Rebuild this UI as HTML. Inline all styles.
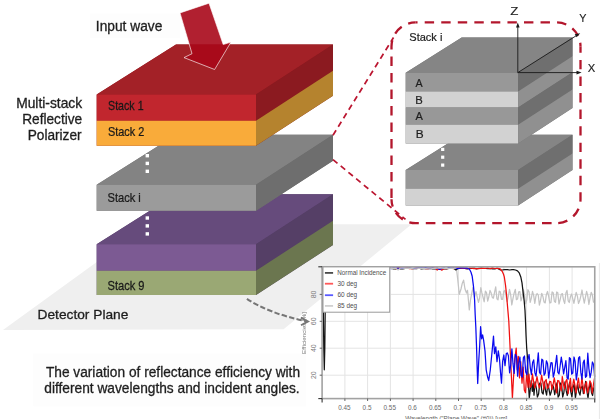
<!DOCTYPE html>
<html><head><meta charset="utf-8"><title>Multi-stack Reflective Polarizer</title>
<style>html,body{margin:0;padding:0;background:#fff;width:600px;height:419px;overflow:hidden}</style>
</head><body>
<svg width="600" height="419" viewBox="0 0 600 419" style="display:block">
<defs><filter id="soft" x="-5%" y="-20%" width="110%" height="140%"><feGaussianBlur stdDeviation="0.32"/></filter></defs>
<rect width="600" height="419" fill="#ffffff"/>
<polygon points="3.0,330.0 148.8,224.3 411.6,224.3 283.6,329.2" fill="#efefef" />
<rect x="33.2" y="353.4" width="273" height="53" fill="#fdfdfd"/>
<rect x="90" y="13.5" width="90" height="24.5" fill="#fdfdfd"/>
<polygon points="96.7,244.2 176.0,194.2 333.0,194.2 333.0,245.0 256.0,295.0 96.7,295.0" fill="#553f66" />
<polygon points="96.70,244.20 256.00,244.20 333.00,194.20 176.00,194.20" fill="#664b7c"/>
<polygon points="96.70,244.20 256.00,244.20 256.00,270.70 96.70,270.70" fill="#7c5a93"/>
<polygon points="256.00,244.20 333.00,194.20 333.00,220.70 256.00,270.70" fill="#553f66"/>
<polygon points="96.70,270.70 256.00,270.70 256.00,295.00 96.70,295.00" fill="#9aa874"/>
<polygon points="256.00,270.70 333.00,220.70 333.00,245.00 256.00,295.00" fill="#6b764f"/>
<polygon points="96.7,184.7 176.0,134.7 333.0,134.7 333.0,160.8 256.0,210.8 96.7,210.8" fill="#6e6e6e" />
<polygon points="96.70,184.70 256.00,184.70 333.00,134.70 176.00,134.70" fill="#838383"/>
<polygon points="96.70,184.70 256.00,184.70 256.00,210.80 96.70,210.80" fill="#9b9b9b"/>
<polygon points="256.00,184.70 333.00,134.70 333.00,160.80 256.00,210.80" fill="#6e6e6e"/>
<polygon points="96.7,94.6 176.0,44.6 333.0,44.6 333.0,95.8 256.0,145.8 96.7,145.8" fill="#8b1a20" />
<polygon points="96.70,94.60 256.00,94.60 333.00,44.60 176.00,44.60" fill="#a32127"/>
<polygon points="96.70,94.60 256.00,94.60 256.00,120.70 96.70,120.70" fill="#c1262e"/>
<polygon points="256.00,94.60 333.00,44.60 333.00,70.70 256.00,120.70" fill="#8b1a20"/>
<polygon points="96.70,120.70 256.00,120.70 256.00,145.80 96.70,145.80" fill="#f9ab3a"/>
<polygon points="256.00,120.70 333.00,70.70 333.00,95.80 256.00,145.80" fill="#b5832e"/>
<rect x="145.6" y="154.0" width="3.4" height="3.4" fill="#ffffff"/>
<rect x="145.6" y="161.7" width="3.4" height="3.4" fill="#ffffff"/>
<rect x="145.6" y="169.6" width="3.4" height="3.4" fill="#ffffff"/>
<rect x="145.6" y="216.3" width="3.4" height="3.4" fill="#ffffff"/>
<rect x="145.6" y="224.2" width="3.4" height="3.4" fill="#ffffff"/>
<rect x="145.6" y="232.2" width="3.4" height="3.4" fill="#ffffff"/>
<polygon points="180.0,12.9 209.0,3.2 223.2,44.6 231.0,42.0 214.6,69.5 184.0,57.6 192.0,53.7" fill="#a8081a" fill-opacity="0.9" stroke="#ffffff" stroke-opacity="0.85" stroke-width="0.75" stroke-linejoin="miter"/>
<g filter="url(#soft)">
<text transform="translate(95.83,30.60) scale(0.9961,1)" font-family="Liberation Sans, Arial, sans-serif" font-size="13.80" fill="#1e1e1e"  stroke="#1e1e1e" stroke-width="0.30">Input wave</text>
<text transform="translate(16.16,107.50) scale(1.0026,1)" font-family="Liberation Sans, Arial, sans-serif" font-size="13.80" fill="#1e1e1e"  stroke="#1e1e1e" stroke-width="0.30">Multi-stack</text>
<text transform="translate(22.18,123.60) scale(0.9907,1)" font-family="Liberation Sans, Arial, sans-serif" font-size="13.80" fill="#1e1e1e"  stroke="#1e1e1e" stroke-width="0.30">Reflective</text>
<text transform="translate(27.68,140.10) scale(0.9908,1)" font-family="Liberation Sans, Arial, sans-serif" font-size="13.80" fill="#1e1e1e"  stroke="#1e1e1e" stroke-width="0.30">Polarizer</text>
<text transform="translate(108.02,110.20) scale(0.8897,1)" font-family="Liberation Sans, Arial, sans-serif" font-size="12.00" fill="#1a1a1a"  stroke="#1a1a1a" stroke-width="0.25">Stack 1</text>
<text transform="translate(108.01,135.90) scale(0.9081,1)" font-family="Liberation Sans, Arial, sans-serif" font-size="12.00" fill="#1a1a1a"  stroke="#1a1a1a" stroke-width="0.25">Stack 2</text>
<text transform="translate(107.50,202.10) scale(0.9262,1)" font-family="Liberation Sans, Arial, sans-serif" font-size="12.00" fill="#1a1a1a"  stroke="#1a1a1a" stroke-width="0.25">Stack i</text>
<text transform="translate(107.50,289.70) scale(0.9253,1)" font-family="Liberation Sans, Arial, sans-serif" font-size="12.00" fill="#1a1a1a"  stroke="#1a1a1a" stroke-width="0.25">Stack 9</text>
<text transform="translate(37.57,318.80) scale(1.0097,1)" font-family="Liberation Sans, Arial, sans-serif" font-size="13.60" fill="#1e1e1e"  stroke="#1e1e1e" stroke-width="0.30">Detector Plane</text>
<text transform="translate(45.89,377.00) scale(0.9930,1)" font-family="Liberation Sans, Arial, sans-serif" font-size="13.80" fill="#1e1e1e"  stroke="#1e1e1e" stroke-width="0.30">The variation of reflectance efficiency with</text>
<text transform="translate(44.32,392.90) scale(0.9954,1)" font-family="Liberation Sans, Arial, sans-serif" font-size="13.80" fill="#1e1e1e"  stroke="#1e1e1e" stroke-width="0.30">different wavelengths and incident angles.</text>
</g>
<g stroke="#bb1530" stroke-width="1.7" stroke-dasharray="5.8 4.2" fill="none">
<line x1="333" y1="135.2" x2="393.5" y2="37.5"/>
<line x1="333" y1="159.6" x2="405.5" y2="219.4"/>
</g>
<polygon points="405.7,170.1 461.7,134.8 572.5,134.8 572.5,170.1 518.1,205.4 405.7,205.4" fill="#6f6f6f" />
<polygon points="405.70,170.10 518.10,170.10 572.50,134.80 461.70,134.80" fill="#858585"/>
<polygon points="405.70,170.10 518.10,170.10 518.10,188.70 405.70,188.70" fill="#989898"/>
<polygon points="518.10,170.10 572.50,134.80 572.50,153.40 518.10,188.70" fill="#6f6f6f"/>
<polygon points="405.70,188.70 518.10,188.70 518.10,205.40 405.70,205.40" fill="#d2d2d2"/>
<polygon points="518.10,188.70 572.50,153.40 572.50,170.10 518.10,205.40" fill="#909090"/>
<polygon points="405.7,72.8 461.7,37.5 572.5,37.5 572.5,108.1 518.1,143.4 405.7,143.4" fill="#6f6f6f" />
<polygon points="405.70,72.80 518.10,72.80 572.50,37.50 461.70,37.50" fill="#858585"/>
<polygon points="405.70,72.80 518.10,72.80 518.10,91.50 405.70,91.50" fill="#989898"/>
<polygon points="518.10,72.80 572.50,37.50 572.50,56.20 518.10,91.50" fill="#6f6f6f"/>
<polygon points="405.70,91.50 518.10,91.50 518.10,107.60 405.70,107.60" fill="#d2d2d2"/>
<polygon points="518.10,91.50 572.50,56.20 572.50,72.30 518.10,107.60" fill="#909090"/>
<polygon points="405.70,107.60 518.10,107.60 518.10,124.80 405.70,124.80" fill="#989898"/>
<polygon points="518.10,107.60 572.50,72.30 572.50,89.50 518.10,124.80" fill="#6f6f6f"/>
<polygon points="405.70,124.80 518.10,124.80 518.10,143.40 405.70,143.40" fill="#d2d2d2"/>
<polygon points="518.10,124.80 572.50,89.50 572.50,108.10 518.10,143.40" fill="#909090"/>
<rect x="441.1" y="147.8" width="3.2" height="3.2" fill="#ffffff"/>
<rect x="441.1" y="155.6" width="3.2" height="3.2" fill="#ffffff"/>
<rect x="441.1" y="163.5" width="3.2" height="3.2" fill="#ffffff"/>
<g fill="none" stroke="#b3162c" stroke-width="2.3">
<path d="M415.5,22.4 H556.5 A24,24 0 0 1 580.5,46.4" stroke-dasharray="9.4 7.15" stroke-dashoffset="7.35"/>
<path d="M580.5,46.4 V199.2 A24,24 0 0 1 556.5,223.2" stroke-dasharray="9.4 7.15" stroke-dashoffset="3.0"/>
<path d="M556.5,223.2 H415.5 A24,24 0 0 1 391.5,199.2" stroke-dasharray="9.6 7.0" stroke-dashoffset="11.7"/>
<path d="M391.5,199.2 V46.4 A24,24 0 0 1 415.5,22.4" stroke-dasharray="9.3 7.2" stroke-dashoffset="15.2"/>
</g>
<g stroke="#1a1a1a" stroke-width="0.9" fill="none">
<line x1="517.8" y1="72.6" x2="517.8" y2="25"/>
<line x1="517.8" y1="72.6" x2="579" y2="72.6"/>
<line x1="517.8" y1="72.6" x2="578" y2="34.6"/>
</g>
<g fill="#1a1a1a">
<polygon points="517.8,22.4 516.0,27.5 519.6,27.5" fill="#1a1a1a" />
<polygon points="581.6,72.6 576.5,70.8 576.5,74.4" fill="#1a1a1a" />
<polygon points="580.2,33.2 574.7,34.2 576.6,37.2" fill="#1a1a1a" />
</g>
<g filter="url(#soft)">
<text transform="translate(409.30,40.80) scale(1.0227,1)" font-family="Liberation Sans, Arial, sans-serif" font-size="10.80" fill="#222222"  stroke="#222222" stroke-width="0.20">Stack i</text>
<text transform="translate(415.48,86.70) scale(0.9476,1)" font-family="Liberation Sans, Arial, sans-serif" font-size="11.30" fill="#1e1e1e"  stroke="#1e1e1e" stroke-width="0.20">A</text>
<text transform="translate(415.18,103.60) scale(0.9976,1)" font-family="Liberation Sans, Arial, sans-serif" font-size="11.30" fill="#1e1e1e"  stroke="#1e1e1e" stroke-width="0.20">B</text>
<text transform="translate(415.48,119.80) scale(0.9743,1)" font-family="Liberation Sans, Arial, sans-serif" font-size="11.30" fill="#1e1e1e"  stroke="#1e1e1e" stroke-width="0.20">A</text>
<text transform="translate(415.73,137.90) scale(1.0475,1)" font-family="Liberation Sans, Arial, sans-serif" font-size="11.30" fill="#1e1e1e"  stroke="#1e1e1e" stroke-width="0.20">B</text>
<text transform="translate(510.28,15.30) scale(1.1897,1)" font-family="Liberation Sans, Arial, sans-serif" font-size="11.20" fill="#222222"  stroke="#222222" stroke-width="0.15">Z</text>
<text transform="translate(579.16,21.90) scale(0.9601,1)" font-family="Liberation Sans, Arial, sans-serif" font-size="11.20" fill="#222222"  stroke="#222222" stroke-width="0.15">Y</text>
<text transform="translate(587.75,72.10) scale(1.0023,1)" font-family="Liberation Sans, Arial, sans-serif" font-size="11.20" fill="#222222"  stroke="#222222" stroke-width="0.15">X</text>
</g>
<rect x="322.10" y="266.80" width="272.65" height="131.80" fill="#ffffff"/>
<g stroke="#e4e4e4" stroke-width="1">
<line x1="344.9" y1="266.8" x2="344.9" y2="398.6"/>
<line x1="367.6" y1="266.8" x2="367.6" y2="398.6"/>
<line x1="390.4" y1="266.8" x2="390.4" y2="398.6"/>
<line x1="413.1" y1="266.8" x2="413.1" y2="398.6"/>
<line x1="435.8" y1="266.8" x2="435.8" y2="398.6"/>
<line x1="458.5" y1="266.8" x2="458.5" y2="398.6"/>
<line x1="481.2" y1="266.8" x2="481.2" y2="398.6"/>
<line x1="503.9" y1="266.8" x2="503.9" y2="398.6"/>
<line x1="526.6" y1="266.8" x2="526.6" y2="398.6"/>
<line x1="549.4" y1="266.8" x2="549.4" y2="398.6"/>
<line x1="572.1" y1="266.8" x2="572.1" y2="398.6"/>
<line x1="322.1" y1="375.2" x2="594.8" y2="375.2"/>
<line x1="322.1" y1="348.2" x2="594.8" y2="348.2"/>
<line x1="322.1" y1="321.3" x2="594.8" y2="321.3"/>
<line x1="322.1" y1="294.4" x2="594.8" y2="294.4"/>
</g>
<g fill="none" stroke-width="1.25" stroke-linejoin="round">
<path d="M456.4,268.1 L457.6,278.2 L459.3,294.4 L461.0,289.0 L462.2,283.6 L463.6,280.2 L465.0,289.0 L466.5,293.0 L467.5,290.3 L469.3,309.9 L470.5,299.8 L471.7,293.7 L472.9,287.6 L474.5,297.1 L476.0,291.7 L477.5,298.4 L478.5,302.3 L479.6,297.9 L480.8,287.7 L481.9,292.9 L483.1,297.5 L484.2,301.8 L485.4,291.1 L486.5,292.7 L487.7,301.2 L488.8,297.0 L490.0,290.4 L491.1,292.8 L492.3,297.4 L493.4,298.2 L494.6,292.2 L495.7,286.9 L496.9,298.8 L498.0,299.9 L499.2,291.2 L500.3,291.7 L501.5,299.3 L502.6,299.4 L503.8,291.3 L504.9,290.4 L506.1,296.0 L507.2,301.7 L508.4,295.8 L509.5,289.4 L510.7,295.0 L511.8,305.0 L513.0,298.4 L514.1,293.2 L515.3,289.4 L516.4,299.6 L517.6,299.0 L518.7,291.8 L519.9,291.6 L521.0,300.9 L522.2,296.9 L523.3,289.5 L524.5,294.2 L525.6,303.8 L526.8,299.7 L527.9,289.7 L529.1,291.9 L530.2,302.4 L531.4,297.8 L532.5,291.4 L533.7,295.7 L534.8,303.3 L536.0,295.7 L537.1,293.5 L538.3,295.2 L539.4,305.2 L540.6,300.0 L541.7,293.3 L542.9,296.4 L544.0,301.9 L545.2,302.9 L546.3,294.9 L547.5,291.5 L548.6,296.0 L549.8,303.0 L550.9,302.7 L552.1,291.9 L553.2,292.7 L554.4,301.5 L555.5,302.3 L556.7,292.0 L557.8,292.8 L559.0,304.0 L560.1,299.8 L561.3,294.2 L562.4,293.6 L563.6,300.4 L564.7,303.5 L565.9,293.1 L567.0,290.4 L568.2,300.8 L569.3,302.5 L570.5,296.4 L571.6,294.0 L572.8,298.9 L573.9,303.4 L575.1,297.3 L576.2,292.4 L577.4,296.2 L578.5,303.5 L579.7,300.6 L580.8,296.1 L582.0,290.0 L583.1,297.0 L584.3,303.2 L585.4,297.4 L586.6,291.4 L587.7,295.4 L588.9,304.5 L590.0,298.1 L591.2,292.3 L592.3,294.8 L593.5,302.1 L594.6,302.1" stroke="#c4c4c4"/>
<path d="M322.2,268.1 L322.8,270.1 L323.3,307.8 L323.8,348.2 L324.3,369.8 L324.8,348.2 L325.3,301.1 L325.8,271.5 L326.5,268.3 L327.0,268.6 L329.3,268.8 L331.6,268.5 L333.9,268.5 L336.2,268.3 L338.5,268.3 L340.8,268.3 L343.1,268.8 L345.4,268.3 L347.7,268.4 L350.0,268.9 L352.3,268.9 L354.6,268.3 L356.9,268.3 L359.2,268.8 L361.5,268.8 L363.8,268.4 L366.1,268.9 L368.4,268.4 L370.7,268.8 L373.0,268.2 L375.3,268.8 L377.6,268.6 L379.9,268.5 L382.2,268.9 L384.5,268.6 L386.8,268.6 L389.1,268.5 L391.4,268.4 L393.7,268.8 L396.0,268.9 L398.3,268.2 L400.6,268.8 L402.9,268.8 L405.2,268.4 L407.5,268.4 L409.8,268.2 L412.1,268.7 L414.4,268.3 L416.7,268.6 L419.0,268.1 L421.3,268.8 L423.6,268.7 L425.9,268.7 L428.2,268.6 L430.5,268.3 L432.8,268.8 L435.1,268.9 L437.4,268.4 L439.7,268.7 L442.0,268.8 L444.3,268.7 L446.6,268.8 L448.9,268.4 L451.2,268.5 L453.5,268.1 L455.8,269.9 L458.1,268.5 L460.4,268.4 L462.7,268.4 L465.0,268.3 L467.3,268.9 L469.6,268.5 L471.9,268.4 L474.2,268.2 L476.5,268.8 L478.8,268.4 L481.1,268.2 L483.4,268.5 L485.7,268.3 L488.0,268.7 L490.3,268.5 L492.6,268.8 L494.9,268.9 L497.2,268.2 L500.5,270.0 L502.8,269.9 L505.1,269.5 L507.4,269.6 L509.7,270.0 L512.0,269.7 L513.5,269.6 L515.5,270.0 L517.5,270.8 L519.2,272.8 L520.8,276.9 L522.0,282.9 L523.2,293.0 L524.2,301.1 L525.0,310.5 L525.5,321.3 L526.0,334.8 L526.7,348.2 L527.3,355.0 L528.0,372.5 L528.7,388.6 L529.3,398.1 L530.2,390.0 L531.2,380.6 L532.3,391.3 L533.3,383.2 L534.0,395.2 L535.1,381.8 L536.3,388.0 L537.4,397.1 L538.6,394.1 L539.7,383.2 L540.9,383.1 L542.0,392.5 L543.2,394.0 L544.3,381.8 L545.5,390.5 L546.6,395.1 L547.8,383.8 L548.9,389.0 L550.1,395.2 L551.2,392.0 L552.4,385.1 L553.5,386.8 L554.7,394.6 L555.8,388.7 L557.0,382.8 L558.1,397.1 L559.3,395.2 L560.4,383.0 L561.6,384.9 L562.7,397.1 L563.9,392.3 L565.0,382.0 L566.2,390.7 L567.3,395.5 L568.5,387.9 L569.6,382.4 L570.8,391.8 L571.9,396.8 L573.1,387.0 L574.2,384.2 L575.4,398.0 L576.5,390.6 L577.7,384.0 L578.8,392.1 L580.0,395.1 L581.1,387.9 L582.3,386.0 L583.4,393.6 L584.6,388.2 L585.7,381.3 L586.9,390.7 L588.0,398.5 L589.2,388.3 L590.3,382.7 L591.5,392.8 L592.6,395.5 L593.8,387.3" stroke="#141414"/>
<path d="M322.2,268.7 L324.5,268.4 L326.8,268.6 L329.1,268.5 L331.4,268.6 L333.7,268.1 L336.0,268.2 L338.3,268.3 L340.6,270.3 L342.9,267.8 L345.2,268.5 L347.5,268.4 L349.8,268.5 L352.1,268.2 L354.4,267.8 L356.7,268.4 L359.0,267.9 L361.3,268.7 L363.6,267.9 L365.9,268.5 L368.2,268.0 L370.5,268.1 L372.8,268.7 L375.1,268.4 L377.4,268.1 L379.7,267.8 L382.0,267.8 L384.3,268.4 L386.6,268.1 L388.9,268.1 L391.2,268.5 L393.5,268.2 L395.8,268.6 L398.1,267.9 L400.4,267.8 L402.7,268.3 L405.0,268.3 L407.3,268.2 L409.6,268.6 L411.9,268.6 L414.2,268.4 L416.5,267.9 L418.8,268.3 L421.1,268.5 L423.4,268.2 L425.7,268.7 L428.0,268.6 L430.3,268.1 L432.6,268.0 L434.9,268.0 L437.2,270.0 L439.5,268.4 L441.8,270.2 L444.1,268.6 L446.4,268.7 L448.7,268.5 L451.0,268.0 L453.3,268.6 L455.6,268.1 L457.9,267.9 L460.2,268.2 L462.5,268.3 L464.8,268.3 L467.1,268.6 L469.4,268.0 L471.7,268.1 L474.0,268.6 L476.3,268.6 L478.6,268.6 L480.9,268.4 L483.2,268.1 L485.5,268.5 L487.8,268.0 L490.1,268.7 L492.4,267.9 L494.7,268.5 L497.0,268.4 L498.5,268.3 L500.5,269.1 L502.3,271.5 L503.5,274.2 L504.3,276.9 L505.5,285.0 L506.5,294.4 L507.2,302.5 L508.0,311.9 L508.8,321.3 L509.6,337.5 L510.5,356.3 L511.4,376.5 L512.4,398.1 L513.5,377.9 L514.8,359.0 L516.2,348.2 L517.2,369.8 L518.3,356.3 L519.5,377.9 L520.7,361.7 L522.0,383.2 L523.2,367.1 L524.3,390.0 L525.5,392.7 L526.7,372.5 L528.0,387.3 L529.0,374.2 L530.1,387.3 L531.3,386.0 L532.4,373.8 L533.6,381.7 L534.7,387.9 L535.9,382.6 L537.0,376.5 L538.2,383.4 L539.3,387.8 L540.5,384.1 L541.6,375.1 L542.8,381.7 L543.9,389.5 L545.1,381.1 L546.2,379.5 L547.4,388.3 L548.5,387.2 L549.7,381.4 L550.8,381.5 L552.0,389.6 L553.1,384.3 L554.3,377.8 L555.4,384.9 L556.6,392.8 L557.7,380.5 L558.9,380.9 L560.0,385.9 L561.2,390.9 L562.3,376.5 L563.5,384.6 L564.6,389.2 L565.8,381.3 L566.9,379.4 L568.1,393.7 L569.2,385.8 L570.4,378.4 L571.5,391.8 L572.7,385.9 L573.8,379.2 L575.0,385.5 L576.1,393.0 L577.3,384.1 L578.4,378.2 L579.6,387.6 L580.7,388.9 L581.9,377.5 L583.0,385.6 L584.2,393.5 L585.3,384.6 L586.5,381.9 L587.6,393.0 L588.8,387.5 L589.9,380.9 L591.1,383.3 L592.2,393.2 L593.4,384.8 L594.5,378.4" stroke="#f01010"/>
<path d="M322.2,268.4 L324.5,268.0 L326.8,268.4 L329.1,267.8 L331.4,268.1 L333.7,268.6 L336.0,268.0 L338.3,267.8 L340.6,270.0 L342.9,267.7 L345.2,267.8 L347.5,268.6 L349.8,268.1 L352.1,267.7 L354.4,268.4 L356.7,268.5 L359.0,268.2 L361.3,268.3 L363.6,270.0 L365.9,267.8 L368.2,267.9 L370.5,267.7 L372.8,267.9 L375.1,268.0 L377.4,268.5 L379.7,267.8 L382.0,267.7 L384.3,268.2 L386.6,268.2 L388.9,267.7 L391.2,268.6 L393.5,267.9 L395.8,268.1 L398.1,268.1 L400.4,268.4 L402.7,268.1 L405.0,268.4 L407.3,268.3 L409.6,268.3 L411.9,268.3 L414.2,268.5 L416.5,267.9 L418.8,268.0 L421.1,267.7 L423.4,268.2 L425.7,267.7 L428.0,267.8 L430.3,268.2 L432.6,267.8 L434.9,268.5 L437.2,267.9 L439.5,269.4 L441.8,268.4 L444.1,268.2 L446.4,268.5 L448.7,267.7 L451.0,267.9 L453.3,268.4 L455.6,268.1 L457.9,268.6 L460.2,267.8 L462.5,267.8 L464.8,268.2 L467.1,267.8 L467.5,268.3 L469.5,269.3 L471.0,272.2 L472.2,276.3 L473.4,285.6 L474.2,294.4 L474.6,300.0 L475.2,315.0 L475.8,326.7 L476.5,345.5 L477.1,365.7 L477.7,383.5 L478.7,361.7 L479.7,345.5 L480.6,326.7 L481.6,338.8 L482.6,334.8 L483.6,340.2 L485.0,350.9 L486.2,369.8 L487.5,376.5 L488.7,380.6 L490.3,369.8 L492.0,352.3 L493.5,336.1 L494.5,353.6 L495.8,346.9 L497.0,361.7 L498.3,350.9 L499.5,359.0 L500.5,372.5 L501.5,383.2 L502.6,361.7 L503.8,355.0 L505.0,365.7 L506.3,353.6 L507.3,352.9 L508.4,355.8 L509.6,372.8 L510.7,365.1 L511.9,348.8 L513.0,363.7 L514.2,373.3 L515.3,354.3 L516.5,356.5 L517.6,376.2 L518.8,362.9 L519.9,357.0 L521.1,375.3 L522.2,377.2 L523.4,357.5 L524.5,356.0 L525.7,372.1 L526.8,374.6 L528.0,359.2 L529.1,354.5 L530.3,367.8 L531.4,374.5 L532.6,362.5 L533.7,359.9 L534.9,372.9 L536.0,376.1 L537.2,364.8 L538.3,352.8 L539.5,372.3 L540.6,374.1 L541.8,359.2 L542.9,360.2 L544.1,375.2 L545.2,373.2 L546.4,360.8 L547.5,363.4 L548.7,378.0 L549.8,370.1 L551.0,362.7 L552.1,362.9 L553.3,377.2 L554.4,372.5 L555.6,363.9 L556.7,355.3 L557.9,372.5 L559.0,374.0 L560.2,365.5 L561.3,357.1 L562.5,364.8 L563.6,373.8 L564.8,367.2 L565.9,360.7 L567.1,377.8 L568.2,379.1 L569.4,357.6 L570.5,358.7 L571.7,374.1 L572.8,373.0 L574.0,357.0 L575.1,361.4 L576.3,379.9 L577.4,372.4 L578.6,357.9 L579.7,356.7 L580.9,372.9 L582.0,379.1 L583.2,362.7 L584.3,360.1 L585.5,377.3 L586.6,376.1 L587.8,353.2 L588.9,368.6 L590.1,377.7 L591.2,372.4 L592.4,362.0 L593.5,364.2 L594.7,376.8" stroke="#0a0af0"/>
<path d="M322.2,268.2 L324.5,268.1 L326.8,268.2 L329.1,268.3 L331.4,268.2 L333.7,268.3 L336.0,268.3 L338.3,269.8 L340.6,268.1 L342.9,268.1 L345.2,269.9 L347.5,269.8 L349.8,268.3 L352.1,268.3 L354.4,268.2 L356.7,268.2 L359.0,268.2 L361.3,268.2 L363.6,268.1 L365.9,268.1 L368.2,268.2 L370.5,268.2 L372.8,268.1 L375.1,268.1 L377.4,268.1 L379.7,268.3 L382.0,268.1 L384.3,268.1 L386.6,268.3 L388.9,268.1 L391.2,268.3 L393.5,268.1 L395.8,268.3 L398.1,269.9 L400.4,268.1 L402.7,268.2 L405.0,268.3 L407.3,268.3 L409.6,268.3 L411.9,268.3 L414.2,268.1 L416.5,268.2 L418.8,268.3 L421.1,268.1 L423.4,268.3 L425.7,268.3 L428.0,268.1 L430.3,268.2 L432.6,268.3 L434.9,268.3 L437.2,268.2 L439.5,268.1 L441.8,268.2 L444.1,268.3 L446.4,268.1 L448.7,268.3 L451.0,268.1 L453.3,268.3 L455.6,268.1 L456.4,268.1" stroke="#c4c4c4"/>
</g>
<rect x="322.10" y="266.80" width="272.65" height="131.80" fill="none" stroke="#a2a2a2" stroke-width="1.6"/>
<g stroke="#333333" stroke-width="1.1">
<line x1="318.3" y1="266.80" x2="322.10" y2="266.80"/>
<line x1="318.3" y1="398.60" x2="322.10" y2="398.60"/>
<line x1="322.10" y1="398.60" x2="322.10" y2="402.4"/>
<line x1="594.75" y1="398.60" x2="594.75" y2="402.4"/>
</g>
<g stroke="#555555" stroke-width="0.9">
<line x1="344.9" y1="398.6" x2="344.9" y2="401.0"/>
<line x1="367.6" y1="398.6" x2="367.6" y2="401.0"/>
<line x1="390.4" y1="398.6" x2="390.4" y2="401.0"/>
<line x1="413.1" y1="398.6" x2="413.1" y2="401.0"/>
<line x1="435.8" y1="398.6" x2="435.8" y2="401.0"/>
<line x1="458.5" y1="398.6" x2="458.5" y2="401.0"/>
<line x1="481.2" y1="398.6" x2="481.2" y2="401.0"/>
<line x1="503.9" y1="398.6" x2="503.9" y2="401.0"/>
<line x1="526.6" y1="398.6" x2="526.6" y2="401.0"/>
<line x1="549.4" y1="398.6" x2="549.4" y2="401.0"/>
<line x1="572.1" y1="398.6" x2="572.1" y2="401.0"/>
<line x1="319.7" y1="375.2" x2="322.1" y2="375.2"/>
<line x1="319.7" y1="348.2" x2="322.1" y2="348.2"/>
<line x1="319.7" y1="321.3" x2="322.1" y2="321.3"/>
<line x1="319.7" y1="294.4" x2="322.1" y2="294.4"/>
</g>
<rect x="323" y="266.9" width="66.7" height="45.3" fill="#ffffff" stroke="#9a9a9a" stroke-width="1"/>
<line x1="324.9" y1="272.9" x2="333.1" y2="272.9" stroke="#4a4a4a" stroke-width="1.8"/>
<line x1="324.9" y1="283.7" x2="333.1" y2="283.7" stroke="#ff5858" stroke-width="1.8"/>
<line x1="324.9" y1="295.2" x2="333.1" y2="295.2" stroke="#5a5aff" stroke-width="1.8"/>
<line x1="324.9" y1="305.9" x2="333.1" y2="305.9" stroke="#d0d0d0" stroke-width="1.8"/>
<g font-family="'Liberation Sans', Arial, sans-serif">
<text transform="translate(337.28,274.90) scale(0.9398,1)" font-family="Liberation Sans, Arial, sans-serif" font-size="6.70" fill="#4e4e4e" >Normal Incidence</text>
<text transform="translate(337.56,286.00) scale(0.9593,1)" font-family="Liberation Sans, Arial, sans-serif" font-size="6.70" fill="#4e4e4e" >30 deg</text>
<text transform="translate(337.47,297.30) scale(0.9635,1)" font-family="Liberation Sans, Arial, sans-serif" font-size="6.70" fill="#4e4e4e" >60 deg</text>
<text transform="translate(337.52,308.20) scale(0.9611,1)" font-family="Liberation Sans, Arial, sans-serif" font-size="6.70" fill="#4e4e4e" >85 deg</text>
<text transform="translate(338.13,410.00) scale(0.8600,1)" font-family="Liberation Sans, Arial, sans-serif" font-size="7.40" fill="#686868" >0.45</text>
<text transform="translate(362.62,410.00) scale(0.8600,1)" font-family="Liberation Sans, Arial, sans-serif" font-size="7.40" fill="#686868" >0.5</text>
<text transform="translate(383.57,410.00) scale(0.8600,1)" font-family="Liberation Sans, Arial, sans-serif" font-size="7.40" fill="#686868" >0.55</text>
<text transform="translate(408.06,410.00) scale(0.8600,1)" font-family="Liberation Sans, Arial, sans-serif" font-size="7.40" fill="#686868" >0.6</text>
<text transform="translate(429.00,410.00) scale(0.8600,1)" font-family="Liberation Sans, Arial, sans-serif" font-size="7.40" fill="#686868" >0.65</text>
<text transform="translate(453.51,410.00) scale(0.8600,1)" font-family="Liberation Sans, Arial, sans-serif" font-size="7.40" fill="#686868" >0.7</text>
<text transform="translate(474.43,410.00) scale(0.8600,1)" font-family="Liberation Sans, Arial, sans-serif" font-size="7.40" fill="#686868" >0.75</text>
<text transform="translate(498.92,410.00) scale(0.8600,1)" font-family="Liberation Sans, Arial, sans-serif" font-size="7.40" fill="#686868" >0.8</text>
<text transform="translate(519.87,410.00) scale(0.8600,1)" font-family="Liberation Sans, Arial, sans-serif" font-size="7.40" fill="#686868" >0.85</text>
<text transform="translate(544.37,410.00) scale(0.8600,1)" font-family="Liberation Sans, Arial, sans-serif" font-size="7.40" fill="#686868" >0.9</text>
<text transform="translate(565.30,410.00) scale(0.8600,1)" font-family="Liberation Sans, Arial, sans-serif" font-size="7.40" fill="#686868" >0.95</text>
</g>
<text transform="translate(316.4,375.2) rotate(-90)" text-anchor="middle" font-family="'Liberation Sans', Arial, sans-serif" font-size="7" fill="#7a7a7a">20</text>
<text transform="translate(316.4,348.2) rotate(-90)" text-anchor="middle" font-family="'Liberation Sans', Arial, sans-serif" font-size="7" fill="#7a7a7a">40</text>
<text transform="translate(316.4,321.3) rotate(-90)" text-anchor="middle" font-family="'Liberation Sans', Arial, sans-serif" font-size="7" fill="#7a7a7a">60</text>
<text transform="translate(316.4,294.4) rotate(-90)" text-anchor="middle" font-family="'Liberation Sans', Arial, sans-serif" font-size="7" fill="#7a7a7a">80</text>
<text transform="translate(405.17,421.40) scale(0.9246,1)" font-family="Liberation Sans, Arial, sans-serif" font-size="6.70" fill="#5e5e5e" >Wavelength ("Plane Wave" (#0)) [um]</text>
<text transform="translate(305.8,333) rotate(-90)" text-anchor="middle" font-family="'Liberation Sans', Arial, sans-serif" fill="#777777" font-size="6.2">Efficiencies [%]</text>
<line x1="599.4" y1="263" x2="599.4" y2="419" stroke="#e8e8e8" stroke-width="1"/>
<path d="M246.9,298.9 Q270,313.8 306.2,321.2" fill="none" stroke="#767676" stroke-width="2.1" stroke-dasharray="5.4 2.3"/>
<path d="M300.8,317.6 L308.1,321.4 L301.0,325.2" fill="none" stroke="#767676" stroke-width="1.8"/>
</svg>
</body></html>
